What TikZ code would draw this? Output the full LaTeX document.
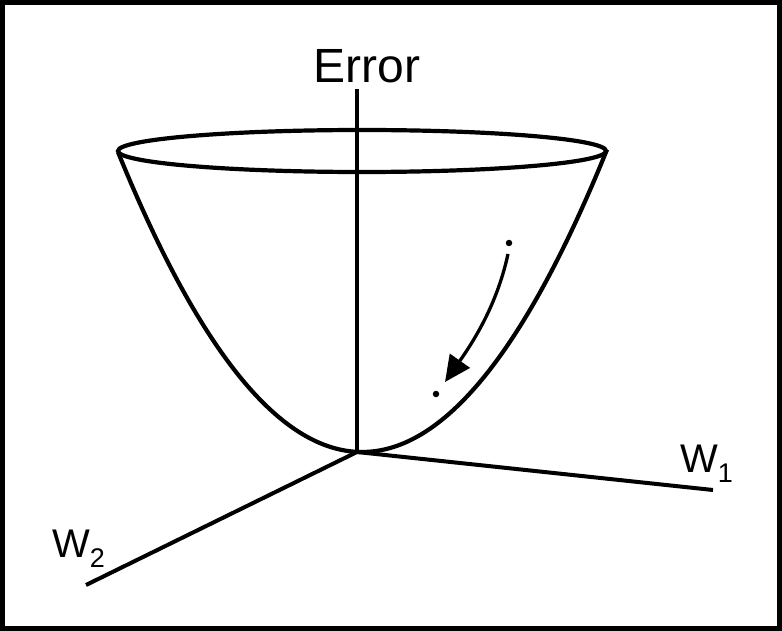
\documentclass[tikz,border=0pt]{standalone}
\usepackage{fontspec}
\setmainfont{Liberation Sans}
\usetikzlibrary{arrows.meta}
\tikzset{
  curve/.style={line width=4.2pt},
  axis/.style={line width=4pt},
  lbl/.style={inner sep=0pt, font=\fontsize{40}{40}\selectfont},
  pt/.style={fill, circle, inner sep=0pt, minimum size=6.5pt},
}
\begin{document}
\begin{tikzpicture}[x=1pt,y=-1pt]
\useasboundingbox (0,0) rectangle (782,631);
\draw[line width=5pt] (2.5,2.5) rectangle (779.5,628.5);
% axes
\coordinate (O) at (357,452);
\coordinate (ztop) at (357,89);
\coordinate (w1end) at (713,490);
\coordinate (w2end) at (86,585);
% bowl
\draw[curve] (362,151) ellipse [x radius=244, y radius=21];
\draw[curve] plot[domain=-24.4:24.5, samples=120, smooth] ({362+10*\x},{452-\x*\x/1.985});
\draw[axis] (O) -- (ztop);
\draw[axis] (O) -- (w1end);
\draw[axis] (O) -- (w2end);
% labels
\node[lbl, anchor=base, font=\fontsize{48}{48}\selectfont] (err) at (367,83) {Error};
\node[lbl, anchor=base west] (w1) at (680,472) {W\raisebox{-10pt}{\fontsize{27}{27}\selectfont 1}};
\node[lbl, anchor=base west] (w2) at (52,557) {W\raisebox{-10pt}{\fontsize{27}{27}\selectfont 2}};
% gradient step
\node[pt] (p1) at (509,243) {};
\node[pt] (p2) at (436,394) {};
\coordinate (a0) at (508,254);
\coordinate (a1) at (445,382);
\draw[line width=3.3pt, -{Triangle[length=26pt, width=24pt]}] (a0) .. controls (498,300) and (478,335) .. (a1);
\end{tikzpicture}
\end{document}
